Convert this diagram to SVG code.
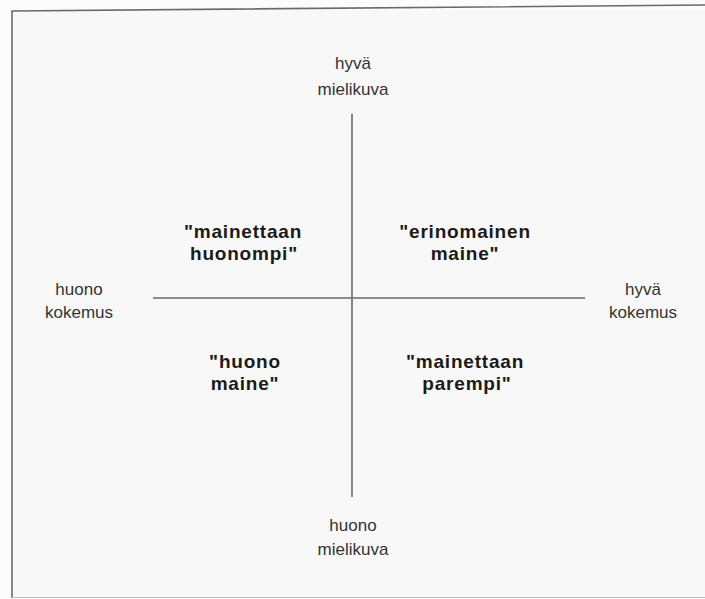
<svg xmlns="http://www.w3.org/2000/svg" width="705" height="599" viewBox="0 0 705 599">
<style>
.ax{font-family:"Liberation Sans",Arial,sans-serif;font-size:17px;fill:#333;text-anchor:middle}
.q{font-family:"Liberation Sans",Arial,sans-serif;font-size:19px;font-weight:bold;letter-spacing:0.8px;fill:#1a1a1a;text-anchor:middle}
.ln{stroke:#6a6a6a;stroke-width:1.6;fill:none}
</style>
<rect x="0" y="0" width="705" height="599" fill="#fcfcfc"/>
<rect x="12" y="10" width="700" height="588" fill="#f8f8f8"/>
<g id="frame">
<polyline class="ln" points="12,598 12,11 705,5" stroke="#8a8a8a"/>
<line x1="12" y1="597.5" x2="705" y2="597.5" stroke="#bbb" stroke-width="1"/>
</g>
<g id="connectors">
<line class="ln" x1="352" y1="114" x2="352" y2="497"/>
<line class="ln" x1="153" y1="298" x2="585" y2="298"/>
</g>
<g id="top-label"><text class="ax" x="353" y="69">hyvä</text><text class="ax" x="353" y="95">mielikuva</text></g>
<g id="bottom-label"><text class="ax" x="353" y="531">huono</text><text class="ax" x="353" y="555">mielikuva</text></g>
<g id="left-label"><text class="ax" x="79" y="295">huono</text><text class="ax" x="79" y="318">kokemus</text></g>
<g id="right-label"><text class="ax" x="643" y="295">hyvä</text><text class="ax" x="643" y="318">kokemus</text></g>
<g id="q-top-left"><text class="q" x="243" y="238">"mainettaan</text><text class="q" x="244" y="260">huonompi"</text></g>
<g id="q-top-right"><text class="q" x="465" y="238">"erinomainen</text><text class="q" x="465" y="260">maine"</text></g>
<g id="q-bottom-left"><text class="q" x="245" y="368">"huono</text><text class="q" x="245" y="390">maine"</text></g>
<g id="q-bottom-right"><text class="q" x="465" y="368">"mainettaan</text><text class="q" x="467" y="390">parempi"</text></g>
</svg>
